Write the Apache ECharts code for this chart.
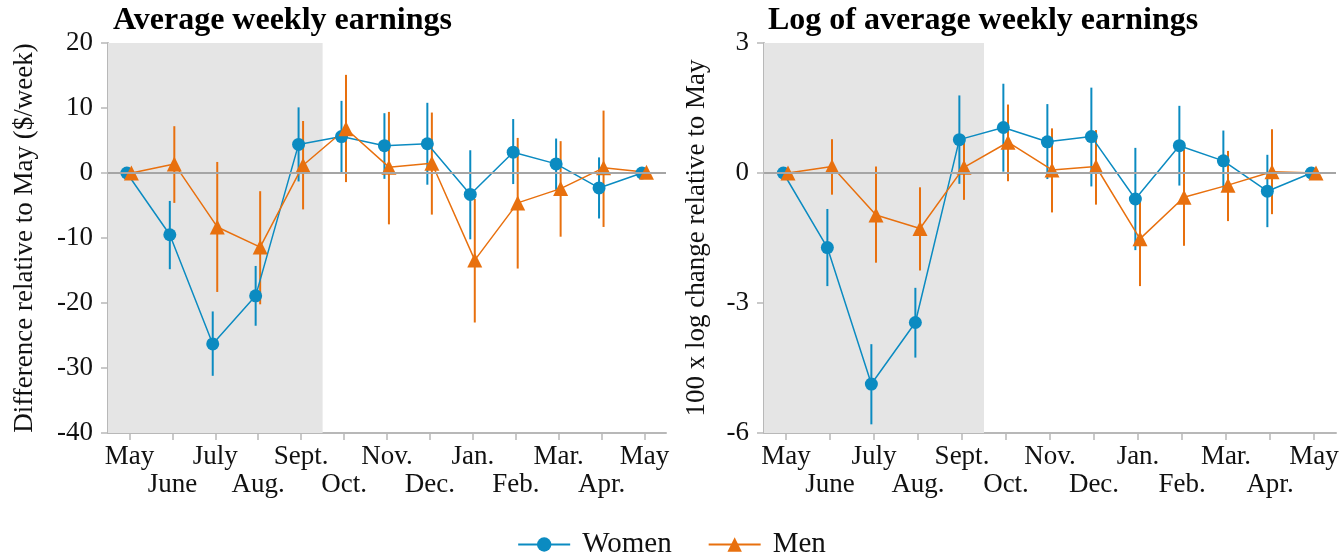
<!DOCTYPE html>
<html>
<head>
<meta charset="utf-8">
<script src="https://cdn.jsdelivr.net/npm/echarts@6/dist/echarts.min.js"></script>
<style>
html,body{margin:0;padding:0;background:#fff;}
#chart{width:1343px;height:554px;}
</style>
</head>
<body>
<div id="chart"></div>
<script>
// ---------- data ----------
const months = ['May','June','July','Aug.','Sept.','Oct.','Nov.','Dec.','Jan.','Feb.','Mar.','Apr.','May'];

// Panel 1: Average weekly earnings ($/week, difference relative to May)
const levWomen   = [0, -9.5, -26.3, -18.9, 4.4, 5.6, 4.2, 4.5, -3.3, 3.2, 1.4, -2.3, 0];
const levWomenLo = [null, -14.8, -31.2, -23.5, -1.3, 0.1, -0.9, -1.8, -10.2, -1.7, -2.6, -7.0, null];
const levWomenHi = [null, -4.3, -21.3, -14.3, 10.1, 11.1, 9.2, 10.8, 3.5, 8.3, 5.3, 2.4, null];
const levMen     = [0, 1.4, -8.3, -11.4, 1.2, 6.8, 0.9, 1.5, -13.4, -4.6, -2.4, 0.8, 0.1];
const levMenLo   = [null, -4.6, -18.3, -20.2, -5.6, -1.4, -7.9, -6.4, -23.0, -14.7, -9.8, -8.3, null];
const levMenHi   = [null, 7.2, 1.7, -2.8, 8.0, 15.1, 9.4, 9.3, -4.0, 5.4, 4.9, 9.6, null];

// Panel 2: Log of average weekly earnings (100 x log change relative to May)
const logWomen   = [0, -1.72, -4.87, -3.45, 0.77, 1.05, 0.72, 0.84, -0.60, 0.63, 0.28, -0.42, 0];
const logWomenLo = [null, -2.61, -5.80, -4.26, -0.25, 0.03, -0.14, -0.31, -1.78, -0.29, -0.41, -1.25, null];
const logWomenHi = [null, -0.83, -3.95, -2.65, 1.79, 2.06, 1.59, 1.97, 0.58, 1.55, 0.98, 0.42, null];
const logMen     = [0, 0.15, -0.97, -1.28, 0.13, 0.71, 0.07, 0.15, -1.52, -0.56, -0.28, 0.03, 0];
const logMenLo   = [null, -0.50, -2.07, -2.25, -0.62, -0.19, -0.91, -0.73, -2.61, -1.68, -1.11, -0.95, null];
const logMenHi   = [null, 0.78, 0.15, -0.33, 0.85, 1.58, 1.03, 0.99, -0.52, 0.55, 0.51, 1.01, null];

const titles = ['Average weekly earnings', 'Log of average weekly earnings'];
const yNames = ['Difference relative to May ($/week)', '100 x log change relative to May'];
const shadedMonths = [0, 4]; // May .. Sept. shaded

// ---------- style ----------
const FONT = 'Liberation Serif';
const BLUE = '#0b8bc1';
const ORANGE = '#e8700e';
const AXIS = '#b8b8b8';
const DODGE_W = -0.06, DODGE_M = 0.045;

const chart = echarts.init(document.getElementById('chart'), null, {renderer: 'canvas'});

function pts(vals, dx) { return vals.map((v, i) => [i + dx, v]); }
function ci(lo, hi, dx) {
  const out = [];
  lo.forEach((l, i) => { if (l !== null && hi[i] !== null) out.push([i + dx, l, hi[i]]); });
  return out;
}
// data series use the hidden value x-axis (index 2k+1) of grid k
function ciSeries(name, data, color, k) {
  return {
    type: 'custom', name: name, xAxisIndex: 2 * k + 1, yAxisIndex: k, z: 3,
    data: data, encode: {x: 0, y: [1, 2]}, silent: true,
    renderItem: function (params, api) {
      const a = api.coord([api.value(0), api.value(1)]);
      const b = api.coord([api.value(0), api.value(2)]);
      return {type: 'line', shape: {x1: a[0], y1: a[1], x2: b[0], y2: b[1]},
              style: {stroke: color, lineWidth: 2}};
    }
  };
}
function lineSeries(name, data, color, symbol, size, k) {
  return {
    type: 'line', name: name, xAxisIndex: 2 * k + 1, yAxisIndex: k, z: 4,
    data: data, symbol: symbol, symbolSize: size, showSymbol: true,
    itemStyle: {color: color}, lineStyle: {color: color, width: 1.5}
  };
}
function bgSeries(k) {
  return {
    type: 'line', name: 'bg' + k, xAxisIndex: 2 * k + 1, yAxisIndex: k, data: [], z: 1,
    markArea: {silent: true, itemStyle: {color: '#e5e5e5'},
      data: [[{xAxis: shadedMonths[0] - 0.5}, {xAxis: shadedMonths[1] + 0.5}]]},
    markLine: {silent: true, symbol: ['none', 'none'], label: {show: false},
      lineStyle: {color: '#a5a5a5', width: 2, type: 'solid'}, data: [{yAxis: 0}]}
  };
}

const grids = [
  {left: 108, top: 43, width: 558, height: 390},
  {left: 764, top: 43, width: 572, height: 390}
];

const xAxes = [];
grids.forEach((g, k) => {
  // visible month axis
  xAxes.push({
    type: 'category', gridIndex: k, data: months, boundaryGap: true, position: 'bottom',
    axisLine: {show: true, onZero: false, lineStyle: {color: AXIS, width: 2}},
    axisTick: {show: true, alignWithLabel: true, interval: 0, length: 7, lineStyle: {color: AXIS, width: 1.5}},
    splitLine: {show: false},
    axisLabel: {
      interval: 0, margin: 10, color: '#111', fontFamily: FONT, fontSize: 27, lineHeight: 28,
      formatter: function (v, i) { return (i % 2 === 1 ? '\n' : '') + v; }
    }
  });
  // hidden numeric axis aligned with the category bands (for dodged marks)
  xAxes.push({
    type: 'value', gridIndex: k, min: -0.5, max: 12.5, show: false, position: 'bottom',
    axisLine: {onZero: false}, splitLine: {show: false}
  });
});

const yAxes = [
  {type: 'value', gridIndex: 0, min: -40, max: 20, interval: 10},
  {type: 'value', gridIndex: 1, min: -6, max: 3, interval: 3}
].map((a, k) => Object.assign(a, {
  position: 'left',
  name: yNames[k], nameLocation: 'middle', nameGap: k === 0 ? 70 : 54,
  nameTextStyle: {fontFamily: FONT, fontSize: 27, color: '#111'},
  axisLine: {show: true, onZero: false, lineStyle: {color: AXIS, width: 2}},
  axisTick: {show: true, inside: false, length: 7, lineStyle: {color: AXIS, width: 1.5}},
  splitLine: {show: false},
  axisLabel: {margin: 15, color: '#111', fontFamily: FONT, fontSize: 27}
}));

const series = [];
[[levWomen, levWomenLo, levWomenHi, levMen, levMenLo, levMenHi],
 [logWomen, logWomenLo, logWomenHi, logMen, logMenLo, logMenHi]].forEach((d, k) => {
  series.push(bgSeries(k));
  series.push(ciSeries('Women CI', ci(d[1], d[2], DODGE_W), BLUE, k));
  series.push(lineSeries('Women', pts(d[0], DODGE_W), BLUE, 'circle', 13, k));
  series.push(ciSeries('Men CI', ci(d[4], d[5], DODGE_M), ORANGE, k));
  series.push(lineSeries('Men', pts(d[3], DODGE_M), ORANGE, 'triangle', 15, k));
});

chart.setOption({
  animation: false,
  backgroundColor: '#fff',
  title: titles.map((t, k) => ({
    text: t, left: k === 0 ? 113 : 768, top: 5, padding: 0,
    textStyle: {fontFamily: FONT, fontWeight: 'bold', fontSize: 32, color: '#000'}
  })),
  legend: {
    data: ['Women', 'Men'], left: 'center', top: 525, itemWidth: 52, itemHeight: 18, itemGap: 36,
    textStyle: {fontFamily: FONT, fontSize: 29, color: '#111', padding: [0, 0, 0, 7]}
  },
  grid: grids,
  xAxis: xAxes,
  yAxis: yAxes,
  series: series
});
</script>
</body>
</html>
